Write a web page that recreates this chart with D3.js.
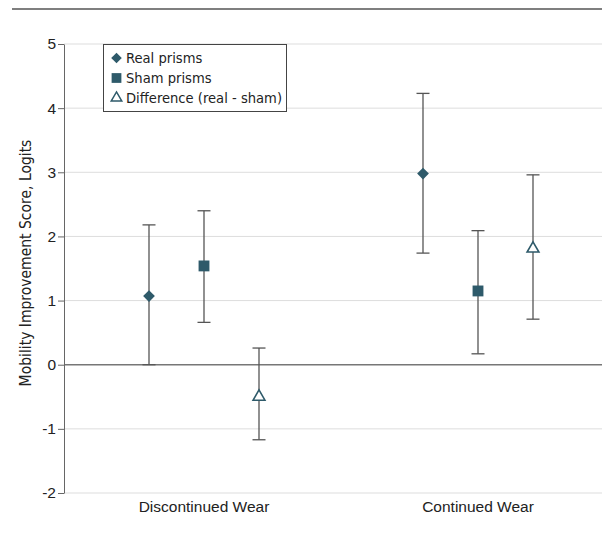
<!DOCTYPE html>
<html>
<head>
<meta charset="utf-8">
<script src="https://cdn.jsdelivr.net/npm/d3@7"></script>
<style>
  body { margin: 0; background: #fff; }
  svg { display: block; font-family: "DejaVu Sans Condensed", "Liberation Sans Narrow", sans-serif; }
  .axis text { font-size: 15.5px; fill: #222; }
  .axis path, .axis line { stroke: #666; }
</style>
</head>
<body>
<svg width="602" height="533"></svg>
<script>
var groups = ["Discontinued Wear", "Continued Wear"];
var series = ["Real prisms", "Sham prisms", "Difference (real - sham)"];
var yTicks = [-2, -1, 0, 1, 2, 3, 4, 5];

// estimate and 95% CI, per group, in series order
var estimates = [[1.07, 1.54, -0.50], [2.98, 1.15, 1.81]];
var lower     = [[0.00, 0.66, -1.17], [1.74, 0.17, 0.71]];
var upper     = [[2.18, 2.40, 0.26], [4.23, 2.09, 2.96]];

var svg = d3.select("svg"),
    m = {left: 64, right: 602, top: 44, bottom: 493},
    teal = "#2e5a6a";

// top rule
svg.append("line")
    .attr("x1", 12).attr("x2", 602)
    .attr("y1", 9).attr("y2", 9)
    .attr("stroke", "#555").attr("stroke-width", 1.5);

var x = d3.scaleBand().domain(groups).range([67, 615]);
var offset = d3.scalePoint().domain(series).range([-55, 55]);
var y = d3.scaleLinear().domain([-2, 5]).range([m.bottom, m.top]);

// gridlines
svg.append("g").selectAll("line")
    .data(yTicks)
  .enter().append("line")
    .attr("x1", m.left).attr("x2", m.right)
    .attr("y1", function(d) { return y(d); })
    .attr("y2", function(d) { return y(d); })
    .attr("stroke", function(d) { return d === 0 ? "#777" : "#ddd"; })
    .attr("stroke-width", function(d) { return d === 0 ? 1.5 : 1; });

svg.append("g")
    .attr("class", "axis")
    .attr("transform", "translate(" + m.left + ",0)")
    .call(d3.axisLeft(y).tickValues(yTicks).tickSize(6).tickSizeOuter(0).tickPadding(2))
    .call(function(g) { g.selectAll(".tick text").text(function(d) { return d < 0 ? "-" + Math.abs(d) : d; }); });

svg.append("g")
    .attr("class", "axis")
    .attr("transform", "translate(0," + m.bottom + ")")
    .call(d3.axisBottom(x).tickSize(0).tickPadding(8))
    .call(function(g) { g.select(".domain").remove(); });

svg.append("text")
    .attr("transform", "translate(31,263) rotate(-90)")
    .attr("text-anchor", "middle")
    .attr("font-size", 15.5)
    .attr("fill", "#222")
    .text("Mobility Improvement Score, Logits");

// flatten data
var points = [];
groups.forEach(function(gname, gi) {
  series.forEach(function(s, si) {
    points.push({group: gname, series: s, si: si,
      est: estimates[gi][si], lo: lower[gi][si], hi: upper[gi][si]});
  });
});

function px(d) { return x(d.group) + x.bandwidth() / 2 + offset(d.series); }

var bars = svg.append("g").selectAll("g")
    .data(points)
  .enter().append("g")
    .attr("stroke", "#555")
    .attr("stroke-width", 1.3);

bars.append("line")
    .attr("x1", px).attr("x2", px)
    .attr("y1", function(d) { return y(d.lo); })
    .attr("y2", function(d) { return y(d.hi); });
bars.append("line")
    .attr("x1", function(d) { return px(d) - 6.5; })
    .attr("x2", function(d) { return px(d) + 6.5; })
    .attr("y1", function(d) { return y(d.lo); })
    .attr("y2", function(d) { return y(d.lo); });
bars.append("line")
    .attr("x1", function(d) { return px(d) - 6.5; })
    .attr("x2", function(d) { return px(d) + 6.5; })
    .attr("y1", function(d) { return y(d.hi); })
    .attr("y2", function(d) { return y(d.hi); });

var shapes = [d3.symbolDiamond2, d3.symbolSquare2, d3.symbolTriangle2];
var sizes = [88, 150, 100];

function marker(sel, si) {
  sel.attr("d", d3.symbol().type(shapes[si]).size(sizes[si]))
     .attr("fill", si === 2 ? "#fff" : teal)
     .attr("stroke", teal)
     .attr("stroke-width", si === 2 ? 1.6 : 0);
}

svg.append("g").selectAll("path")
    .data(points)
  .enter().append("path")
    .attr("transform", function(d) { return "translate(" + px(d) + "," + y(d.est) + ")"; })
    .each(function(d) { marker(d3.select(this), d.si); });

// legend
var legend = svg.append("g").attr("transform", "translate(103,44)");
legend.append("rect")
    .attr("x", 0.5).attr("y", 0.5)
    .attr("width", 183).attr("height", 67)
    .attr("fill", "#fff").attr("stroke", "#444");
series.forEach(function(s, si) {
  var row = legend.append("g").attr("transform", "translate(0," + (14 + si * 20) + ")");
  row.append("path")
      .attr("transform", "translate(13.5,0) scale(0.9)")
      .call(marker, si);
  row.append("text")
      .attr("x", 23).attr("y", 5)
      .attr("font-size", 14.6)
      .attr("fill", "#222")
      .text(s);
});
</script>
</body>
</html>
